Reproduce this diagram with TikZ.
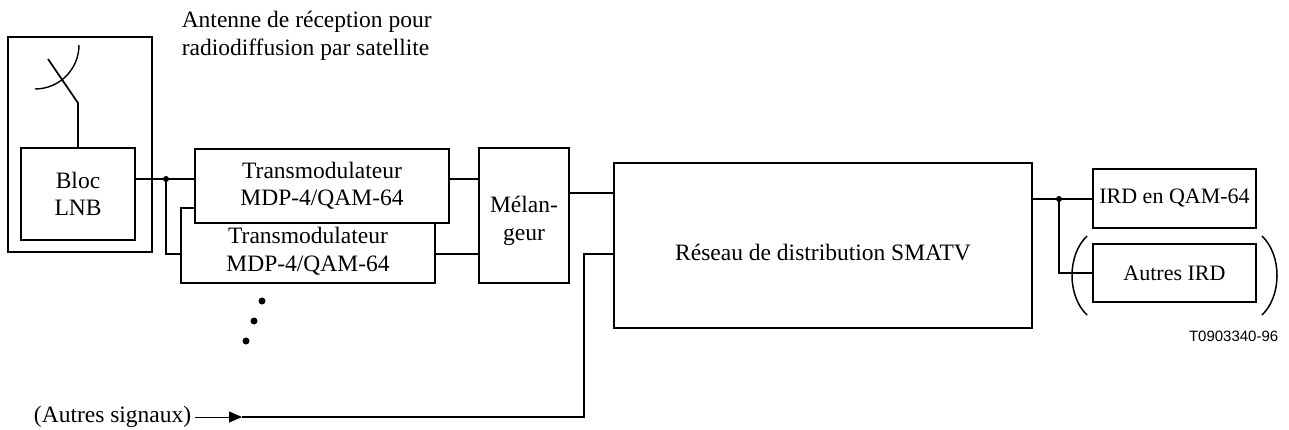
\documentclass[tikz,border=0pt]{standalone}
\usepackage{fontspec}
\setmainfont{Liberation Serif}
\setsansfont{Liberation Sans}
\usetikzlibrary{
    arrows.meta,
    calc,
    positioning
}

\begin{document}
\begin{tikzpicture}[x=1pt, y=-1pt, line width=1.5pt,
        blk/.style={draw, fill=white, inner sep=1pt, align=center, font=\fontsize{23.5}{27.5}\selectfont},
        txt/.style={inner sep=0pt, align=left, font=\fontsize{23.5}{28}\selectfont},
        wire/.style={line width=1.7pt}]
    \useasboundingbox (0,0) rectangle (1289,430);
    % antenne et bloc LNB
    \draw (8,37) rectangle (152,252);
    \node[blk, minimum width=114pt, minimum height=92pt] (lnb) at (78,194) {Bloc\\LNB};
    \draw[wire] (lnb.north) -- (78,103) -- (48,59);
    \draw[line width=1.4pt] (35,89) arc[start angle=270, end angle=360, radius=44pt];
    \node[txt, anchor=west] (ant) at (181,36) {Antenne de réception pour\\radiodiffusion par satellite};
    % transmodulateurs
    \node[blk, minimum width=254pt, minimum height=75pt,
        label={[txt, align=center, yshift=-5.5pt]center:Transmodulateur\\MDP-4/QAM-64}] (tm2) at (308,245.5) {};
    \node[blk, minimum width=254pt, minimum height=74pt] (tm1) at (322,186) {Transmodulateur\\MDP-4/QAM-64};
    \foreach \p in {(262,301), (254,321), (246,341)}
        \fill \p circle (3.5pt);
    \node[blk, minimum width=90pt, minimum height=135pt,
        label={[txt, align=center, yshift=-5pt]center:Mélan-\\geur}] (mel) at (524,215.5) {};
    \node[blk, minimum width=418pt, minimum height=165pt,
        label={[txt, yshift=-7.5pt]center:Réseau de distribution SMATV}] (res) at (823,245.5) {};
    \node[blk, font=\fontsize{22}{26}\selectfont, minimum width=163pt, minimum height=59pt] (ird) at (1174.5,198.5) {IRD en QAM-64};
    \node[blk, font=\fontsize{22}{26}\selectfont, minimum width=163pt, minimum height=58pt] (aird) at (1174.5,273) {Autres IRD};
    \node[txt, anchor=east] (sig) at (192,417) {(Autres signaux)};
    \node[inner sep=0pt, anchor=east, font=\sffamily\fontsize{15}{18}\selectfont] (ref) at (1279,336) {T0903340-96};
    % niveaux des liaisons
    \coordinate (j1) at (166,179);
    \coordinate (j2) at (1059,199);
    \coordinate (lvlA) at (0,179);
    \coordinate (lvlB) at (0,254);
    \coordinate (lvlC) at (0,193);
    \coordinate (tip) at (242,417);
    \coordinate (bend) at (584,417);
    % liaisons
    \draw[wire]
    (lnb.east |- j1) -- (j1) -- (j1 -| tm1.west)
    (j1) |- (tm2.west |- lvlB)
    (tm1.east |- lvlA) -- (mel.west |- lvlA)
    (tm2.east |- lvlB) -- (mel.west |- lvlB)
    (mel.east |- lvlC) -- (res.west |- lvlC)
    (res.east |- j2) -- (j2) -- (j2 -| ird.west)
    (j2) |- (aird.west)
    (tip) -- (bend) |- (res.west |- lvlB);
    \draw[line width=0.9pt, -{Triangle[length=13pt, width=11pt]}] ([xshift=3pt]sig.east) -- (tip);
    \fill (j1) circle (3pt) (j2) circle (3pt);
    % parentheses
    \draw[line width=1.5pt] (1087,236) .. controls (1067,255) and (1067,296) .. (1087,315);
    \draw[line width=1.5pt] (1262,236) .. controls (1282,255) and (1282,296) .. (1262,315);
\end{tikzpicture}
\end{document}
